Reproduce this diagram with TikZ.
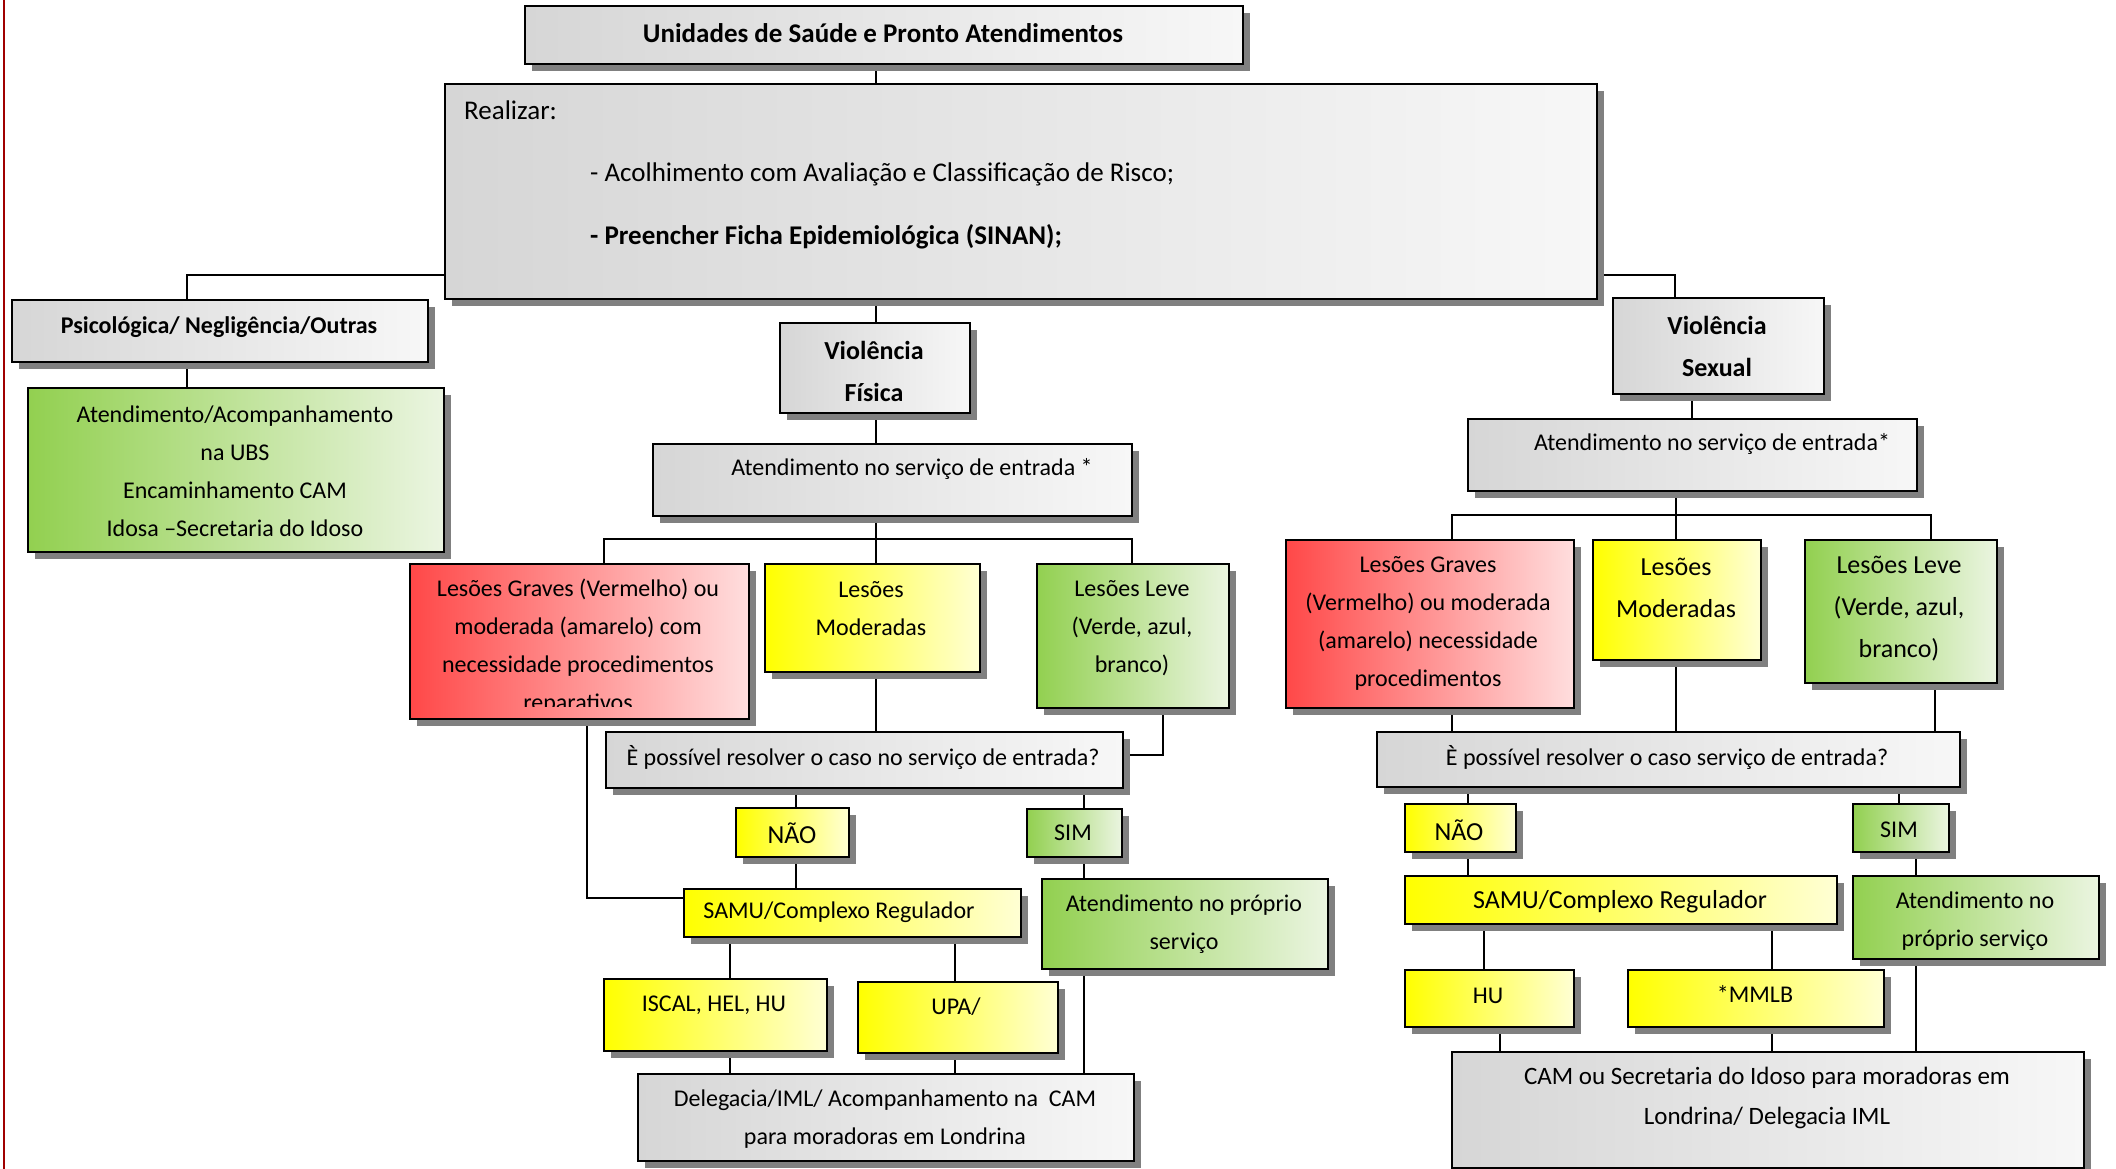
\documentclass[tikz,border=0pt]{standalone}
\usepackage{fontspec}
\setmainfont{Carlito}
\usetikzlibrary{shadows}
\definecolor{gL}{HTML}{D6D6D6}
\definecolor{gR}{HTML}{F7F7F7}
\definecolor{yL}{HTML}{FFFF00}
\definecolor{yR}{HTML}{FFFFD4}
\definecolor{rL}{HTML}{FF4848}
\definecolor{rR}{HTML}{FFDEDE}
\definecolor{nL}{HTML}{92D050}
\definecolor{nR}{HTML}{EBF5E1}
\definecolor{shd}{HTML}{808080}
\definecolor{edgered}{HTML}{A00000}
\pgfdeclarelayer{bg}
\pgfsetlayers{bg,main}
\tikzset{
  box/.style={draw=black, line width=2pt, inner sep=0pt, anchor=north west,
     drop shadow={shadow xshift=7pt, shadow yshift=-7pt, fill=shd, opacity=1}},
  gbox/.style={box, left color=gL, right color=gR},
  ybox/.style={box, left color=yL, right color=yR},
  rbox/.style={box, left color=rL, right color=rR},
  nbox/.style={box, left color=nL, right color=nR},
  conn/.style={draw=black, line width=1.8pt},
  edgeline/.style={draw=edgered, line width=1.3pt},
  txt/.style={inner sep=0pt, align=center, font=\fontsize{24}{38}\selectfont},
  txtbig/.style={inner sep=0pt, align=center, font=\fontsize{26}{42}\selectfont},
  txtcam/.style={inner sep=0pt, align=center, font=\fontsize{25}{40}\selectfont},
  txtlarge/.style={inner sep=0pt, align=center, font=\fontsize{27}{40}\selectfont},
  txtb/.style={inner sep=0pt, align=center, font=\bfseries\fontsize{24}{38}\selectfont},
  txtbb/.style={inner sep=0pt, align=center, font=\bfseries\fontsize{26}{42}\selectfont},
  txtbl/.style={inner sep=0pt, align=center, font=\bfseries\fontsize{27}{40}\selectfont},
}
\newcommand\mybox[6]{\node[#2, minimum width={(#5)-(#3)}, minimum height={(#6)-(#4)}] (#1) at (#3,#4) {};}
\begin{document}
\begin{tikzpicture}[x=1pt,y=-1pt]
\useasboundingbox (0,0) rectangle (2116,1169);
\draw[edgeline] (4,0) -- (4,1169);

% ---------- boxes ----------
\mybox{top}{gbox}{524}{5}{1242}{63}
\mybox{real}{gbox}{444}{83}{1596}{298}
\mybox{psic}{gbox}{11}{299}{427}{361}
\mybox{grn}{nbox}{27}{387}{443}{551}
\mybox{vfis}{gbox}{779}{322}{969}{412}
\mybox{vsex}{gbox}{1612}{297}{1823}{393}
% left branch
\mybox{atenA}{gbox}{652}{443}{1131}{515}
\mybox{gravA}{rbox}{409}{563}{748}{718}
\mybox{modA}{ybox}{764}{563}{979}{671}
\mybox{leveA}{nbox}{1036}{563}{1228}{707}
\mybox{qA}{gbox}{605}{731}{1122}{787}
\mybox{naoA}{ybox}{735}{807}{848}{856}
\mybox{simA}{nbox}{1026}{808}{1121}{856}
\mybox{samuA}{ybox}{683}{888}{1020}{936}
\mybox{propA}{nbox}{1041}{878}{1327}{968}
\mybox{iscal}{ybox}{603}{978}{826}{1050}
\mybox{upa}{ybox}{857}{981}{1057}{1052}
\mybox{deleg}{gbox}{637}{1073}{1133}{1160}
% right branch
\mybox{atenB}{gbox}{1467}{418}{1916}{490}
\mybox{gravB}{rbox}{1285}{539}{1573}{707}
\mybox{modB}{ybox}{1592}{539}{1760}{659}
\mybox{leveB}{nbox}{1804}{539}{1996}{682}
\mybox{qB}{gbox}{1376}{731}{1959}{786}
\mybox{naoB}{ybox}{1404}{803}{1515}{851}
\mybox{simB}{nbox}{1852}{803}{1948}{851}
\mybox{samuB}{ybox}{1404}{875}{1836}{923}
\mybox{propB}{nbox}{1852}{875}{2098}{958}
\mybox{hu}{ybox}{1404}{969}{1573}{1026}
\mybox{mmlb}{ybox}{1627}{969}{1883}{1026}
\mybox{cam}{gbox}{1451}{1051}{2083}{1167}

% ---------- texts ----------
\node[txtbl] (tTop) at (883,33) {Unidades de Saúde e Pronto Atendimentos};
\node[txtlarge, anchor=west] (tReal1) at (464,110) {Realizar:};
\node[txtlarge, anchor=west] (tReal2) at (590,174) {- Acolhimento com Avaliação e Classificação de Risco;};
\node[txtbl, anchor=west] (tReal3) at (590,237) {- Preencher Ficha Epidemiológica (SINAN);};
\node[txtb] (tPsic) at (219,327) {Psicológica/ Negligência/Outras};
\node[txt] (tGrn) at (235,471) {Atendimento/Acompanhamento\\na UBS\\Encaminhamento CAM\\Idosa –Secretaria do Idoso};
\node[txtbb] (tVfis) at (874,371) {Violência\\Física};
\node[txtbb] (tVsex) at (1717,346) {Violência\\Sexual};

\node[txt] (tAtenA) at (912,469) {Atendimento no serviço de entrada *};
\begin{scope}
\clip (409,563) rectangle (748,706);
\node[txt] (tGravA) at (578,647) {Lesões Graves (Vermelho) ou\\moderada (amarelo) com\\necessidade procedimentos\\reparativos};
\end{scope}
\node[txt] (tModA) at (871,609) {Lesões\\Moderadas};
\node[txt] (tLeveA) at (1132,628) {Lesões Leve\\(Verde, azul,\\branco)};
\node[txt] (tQA) at (863,757) {È possível resolver o caso no serviço de entrada?};
\node[txtbig] (tNaoA) at (792,833) {NÃO};
\node[txt] (tSimA) at (1073,833) {SIM};
\node[txt] (tSamuA) at (839,912) {SAMU/Complexo Regulador};
\node[txt] (tPropA) at (1184,924) {Atendimento no próprio\\serviço};
\node[txt] (tIscal) at (714,1005) {ISCAL, HEL, HU};
\node[txt] (tUpa) at (956,1007) {UPA/};
\node[txt] (tDeleg) at (885,1119) {Delegacia/IML/ Acompanhamento na\ \ CAM\\para moradoras em Londrina};

\node[txt] (tAtenB) at (1712,444) {Atendimento no serviço de entrada*};
\node[txt] (tGravB) at (1428,623) {Lesões Graves\\(Vermelho) ou moderada\\(amarelo) necessidade\\procedimentos};
\node[txtbig] (tModB) at (1676,588) {Lesões\\Moderadas};
\node[txtbig] (tLeveB) at (1899,609) {Lesões Leve\\(Verde, azul,\\branco)};
\node[txt] (tQB) at (1667,757) {È possível resolver o caso serviço de entrada?};
\node[txtbig] (tNaoB) at (1459,830) {NÃO};
\node[txt] (tSimB) at (1899,830) {SIM};
\begin{scope}
\clip (1404,875) rectangle (1836,912);
\node[txtbig] (tSamuB) at (1620,902) {SAMU/Complexo Regulador};
\end{scope}
\node[txt] (tPropB) at (1975,921) {Atendimento no\\próprio serviço};
\node[txt] (tHu) at (1488,996) {HU};
\node[txt] (tMmlb) at (1755,994) {*MMLB};
\node[txtcam] (tCam) at (1767,1098) {CAM ou Secretaria do Idoso para moradoras em\\Londrina/ Delegacia IML};

% ---------- connectors ----------
\begin{pgfonlayer}{bg}
\draw[conn] (876,0 |- top.south) -- (876,0 |- real.north);
\draw[conn] (real.west |- 0,275) -| (187,0 |- psic.north);
\draw[conn] (187,0 |- psic.south) -- (187,0 |- grn.north);
\draw[conn] (876,0 |- real.south) -- (876,0 |- vfis.north);
\draw[conn] (real.east |- 0,275) -| (1675,0 |- vsex.north);
% left
\draw[conn] (876,0 |- vfis.south) -- (876,0 |- atenA.north);
\draw[conn] (876,0 |- atenA.south) -- (876,0 |- modA.north);
\draw[conn] (604,0 |- gravA.north) |- (1132,539) -- (1132,0 |- leveA.north);
\draw[conn] (876,0 |- modA.south) -- (876,0 |- qA.north);
\draw[conn] (1163,0 |- leveA.south) |- (qA.east |- 0,755);
\draw[conn] (587,0 |- gravA.south) |- (samuA.west |- 0,898);
\draw[conn] (796,0 |- qA.south) -- (796,0 |- naoA.north);
\draw[conn] (796,0 |- naoA.south) -- (796,0 |- samuA.north);
\draw[conn] (1084,0 |- qA.south) -- (1084,0 |- simA.north);
\draw[conn] (1084,0 |- simA.south) -- (1084,0 |- propA.north);
\draw[conn] (730,0 |- samuA.south) -- (730,0 |- iscal.north);
\draw[conn] (955,0 |- samuA.south) -- (955,0 |- upa.north);
\draw[conn] (730,0 |- iscal.south) -- (730,0 |- deleg.north);
\draw[conn] (955,0 |- upa.south) -- (955,0 |- deleg.north);
\draw[conn] (1084,0 |- propA.south) -- (1084,0 |- deleg.north);
% right
\draw[conn] (1692,0 |- vsex.south) -- (1692,0 |- atenB.north);
\draw[conn] (1676,0 |- atenB.south) -- (1676,0 |- modB.north);
\draw[conn] (1452,0 |- gravB.north) |- (1931,515) -- (1931,0 |- leveB.north);
\draw[conn] (1452,0 |- gravB.south) -- (1452,0 |- qB.north);
\draw[conn] (1676,0 |- modB.south) -- (1676,0 |- qB.north);
\draw[conn] (1935,0 |- leveB.south) -- (1935,0 |- qB.north);
\draw[conn] (1468,0 |- qB.south) -- (1468,0 |- naoB.north);
\draw[conn] (1468,0 |- naoB.south) -- (1468,0 |- samuB.north);
\draw[conn] (1899,0 |- qB.south) -- (1899,0 |- simB.north);
\draw[conn] (1916,0 |- simB.south) -- (1916,0 |- propB.north);
\draw[conn] (1484,0 |- samuB.south) -- (1484,0 |- hu.north);
\draw[conn] (1772,0 |- samuB.south) -- (1772,0 |- mmlb.north);
\draw[conn] (1500,0 |- hu.south) -- (1500,0 |- cam.north);
\draw[conn] (1772,0 |- mmlb.south) -- (1772,0 |- cam.north);
\draw[conn] (1916,0 |- propB.south) -- (1916,0 |- cam.north);
\end{pgfonlayer}
\end{tikzpicture}
\end{document}
